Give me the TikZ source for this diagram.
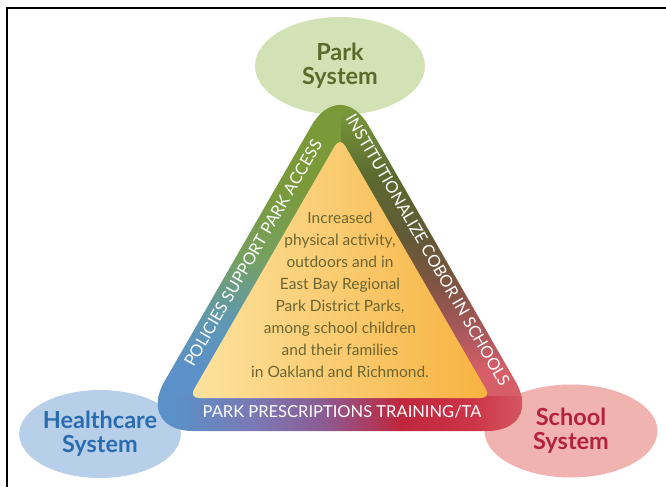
\documentclass[tikz,border=0pt]{standalone}
\usepackage{fontspec}
\setmainfont{Lato}
\usetikzlibrary{shapes.geometric}

\definecolor{parkfill}{HTML}{D3E2B4}
\definecolor{parktext}{HTML}{5A6B2C}
\definecolor{healthfill}{HTML}{B7CFE9}
\definecolor{healthtext}{HTML}{2B6CB0}
\definecolor{schoolfill}{HTML}{F1B3AF}
\definecolor{schooltext}{HTML}{B3223C}
\definecolor{bandgreen}{HTML}{7A9A3A}
\definecolor{bandsage}{HTML}{76A05E}
\definecolor{bandteal}{HTML}{5E98B5}
\definecolor{bandblue}{HTML}{5B90C8}
\definecolor{bandolive}{HTML}{5C6A30}
\definecolor{banddark}{HTML}{615A36}
\definecolor{bandbrown}{HTML}{7E5442}
\definecolor{bandrose}{HTML}{A8585C}
\definecolor{bandpink}{HTML}{D65E68}
\definecolor{bandmauve}{HTML}{7A7AB5}
\definecolor{bandpurple}{HTML}{8C5C94}
\definecolor{bandcrimson}{HTML}{C0263C}
\definecolor{bandred}{HTML}{CC3448}
\definecolor{coreyellow}{HTML}{FCE3A0}
\definecolor{coreorange}{HTML}{F7B23F}
\definecolor{coretext}{HTML}{6B6530}

% band colours: bottom to top, left to right
\pgfdeclareverticalshading{leftband}{100bp}{color(0bp)=(bandblue); color(29bp)=(bandblue); color(36bp)=(bandteal); color(46bp)=(bandsage); color(56bp)=(bandgreen); color(100bp)=(bandgreen)}
\pgfdeclareverticalshading{rightband}{100bp}{color(0bp)=(bandpink); color(29bp)=(bandpink); color(35bp)=(bandrose); color(42bp)=(bandbrown); color(49bp)=(banddark); color(58bp)=(bandolive); color(68bp)=(bandgreen); color(100bp)=(bandgreen)}
\pgfdeclarehorizontalshading{baseband}{100bp}{color(0bp)=(bandblue); color(31bp)=(bandblue); color(40bp)=(bandmauve); color(48bp)=(bandpurple); color(57bp)=(bandcrimson); color(65bp)=(bandred); color(72bp)=(bandpink); color(100bp)=(bandpink)}

\begin{document}
\begin{tikzpicture}[x=1pt, y=-1pt,
	system/.style={ellipse, inner sep=0pt, minimum width=170pt, minimum height=92pt, align=center, font=\bfseries\fontsize{23.5}{24}\selectfont},
	band/.style={text=white, inner sep=0pt, font=\fontsize{16.5}{18}\selectfont}]
	\useasboundingbox (0,0) rectangle (666,487);
	\draw [line width=2pt] (7,487) -- (7,8) -- (666,8);
	\node [system, fill=parkfill, text=parktext, minimum height=98pt] (park) at (340,66) {Park\\System};
	\node [system, fill=healthfill, text=healthtext, minimum width=152pt, minimum height=88pt] (health) at (100,434) {Healthcare\\System};
	\node [system, fill=schoolfill, text=schooltext, minimum width=173pt, minimum height=93pt] (school) at (571,431) {School\\System};
	\coordinate (otop) at (340,76);
	\coordinate (oleft) at (136,431);
	\coordinate (oright) at (544,431);
	\coordinate (itop) at (340,137);
	\coordinate (ileft) at (189,398);
	\coordinate (iright) at (491,398);
	\begin{scope}
		\clip [rounded corners=57pt] (otop) -- (oright) -- (oleft) -- cycle;
		\shade [shading=rightband] (340,60) rectangle (560,398);
		\shade [shading=leftband] (120,60) rectangle (341,398);
		\shade [shading=baseband] (120,396) rectangle (560,440);
	\end{scope}
	\shade [left color=coreyellow, right color=coreorange, rounded corners=10pt] (itop) -- (iright) -- (ileft) -- cycle;
	\node [band, rotate=60] (policies) at (253,253) {POLICIES SUPPORT PARK ACCESS};
	\node [band, rotate=-60] (cobor) at (428,250) {INSTITUTIONALIZE COBOR IN SCHOOLS};
	\node [band] (training) at (342,412) {PARK PRESCRIPTIONS TRAINING/TA};
	\node [align=center, text=coretext, font=\fontsize{15.5}{22}\selectfont] (goal) at (340,295) {Increased\\physical activity,\\outdoors and in\\East Bay Regional\\Park District Parks,\\among school children\\and their families\\in Oakland and Richmond.};
\end{tikzpicture}
\end{document}
